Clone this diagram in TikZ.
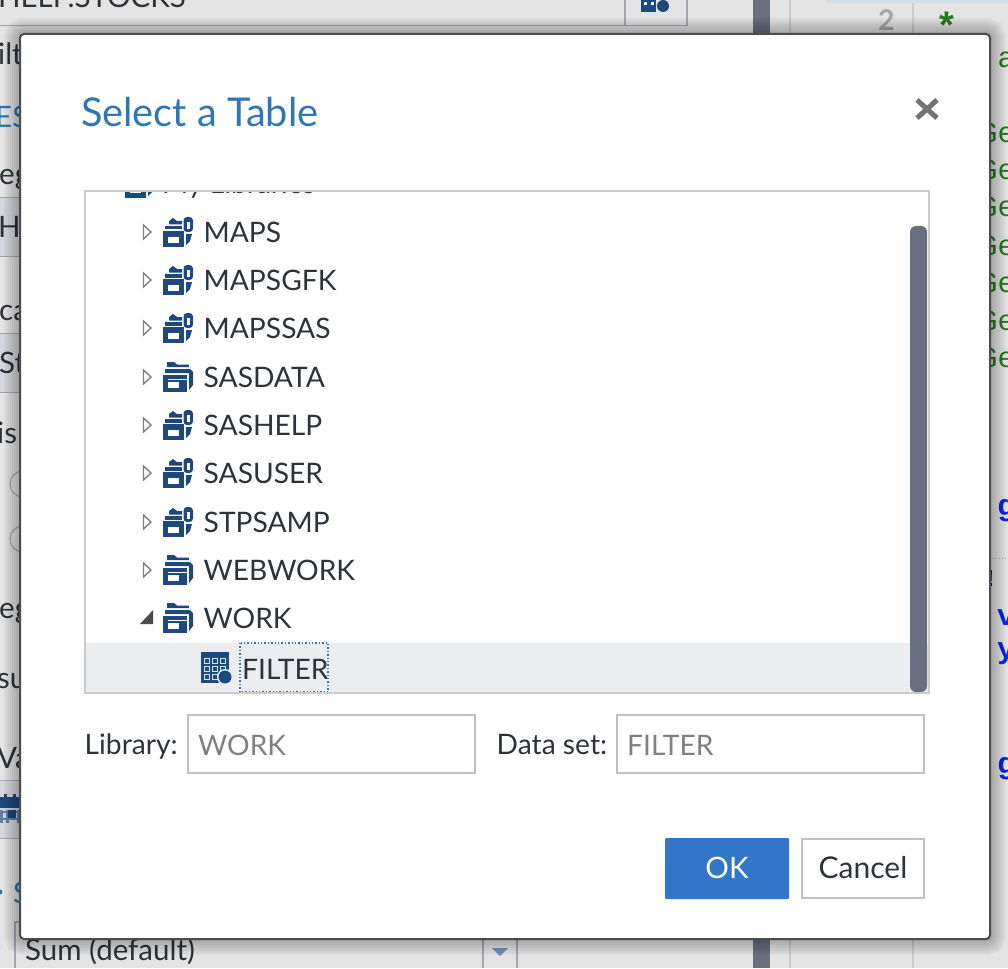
\documentclass[tikz,border=0pt]{standalone}
\usepackage{fontspec}
\setmainfont{Lato}
\newfontfamily\codefont{Liberation Mono}
\definecolor{pagegray}{HTML}{E4E4E4}
\definecolor{bandgray}{HTML}{D6D7DC}
\definecolor{linegray}{HTML}{A3A7B0}
\definecolor{framegray}{HTML}{CCCCCC}
\definecolor{fieldgray}{HTML}{BCC0CA}
\definecolor{inktext}{HTML}{2D333B}
\definecolor{titleblue}{HTML}{2F76B5}
\definecolor{iconblue}{HTML}{1D4A7C}
\definecolor{okblue}{HTML}{3176C8}
\definecolor{barslate}{HTML}{667080}
\definecolor{rowgray}{HTML}{ECEDF1}
\definecolor{codegreen}{HTML}{2A7A1E}
\definecolor{codeblue}{HTML}{0A28D8}
\definecolor{paleband}{HTML}{D5DFE8}
\definecolor{arrowblue}{HTML}{6F93BE}
\tikzset{
  txt/.style={inner sep=0pt,anchor=base west,text=inktext,font=\fontsize{28.2}{30}\selectfont},
  bgtxt/.style={txt,font=\fontsize{29.5}{30}\selectfont},
  greencode/.style={txt,text=codegreen,font=\fontsize{29}{30}\selectfont\codefont},
  bluecode/.style={txt,text=codeblue,font=\fontsize{30}{30}\selectfont\bfseries\codefont},
  field/.style={draw=fieldgray,line width=1.6pt,fill=white},
  plainicon/.pic={
    \fill[iconblue] (-11,-15)--(-4,-15)--(-1,-12.5)--(11,-12.5)--(11,-10)--(-11,-10)--cycle;
    \fill[iconblue] (-13,-8)--(12,-8)--(15,-5)--(15,8)--(11,13)--(11,-4)--(-13,-4)--cycle;
    \fill[iconblue] (-15,-2) rectangle (9,15);
    \fill[white] (-10,5) rectangle (1,10.5);
    \fill[white] (-10,1.5) rectangle (9,2.5);
  },
  lockicon/.pic={
    \fill[iconblue] (-9,-11)--(-5,-14)--(-1,-11)--(4,-11)--(4,-7.5)--(-9,-7.5)--cycle;
    \fill[iconblue] (-13,-6) rectangle (4,-2.5);
    \fill[iconblue] (-15,-1) rectangle (6,15);
    \fill[white] (-10,5) rectangle (1,10.5);
    \fill[iconblue,rounded corners=3.5pt] (5.5,-15) rectangle (15,0);
    \fill[white] (9,-10) rectangle (11.5,-3);
    \fill[iconblue] (8,2)--(14,2)--(12,9)--(8,13)--cycle;
  },
  tableicon/.pic={
    \fill[iconblue] (-14,-15) rectangle (14,16);
    \foreach \gx in {-11,-3,5} \foreach \gy in {-7,1,9}
      \draw[white!85!iconblue,line width=1pt] (\gx,\gy-2) rectangle ++(5,5);
    \fill[rowgray] (10,10) circle (8);
    \fill[iconblue] (10,10) circle (6.5);
  }
}
\begin{document}
\begin{tikzpicture}[x=1pt,y=-1pt]
\useasboundingbox (0,0) rectangle (1008,968);
\clip (0,0) rectangle (1008,968);
% what lies behind the dialog
\fill[pagegray] (0,0) rectangle (1008,968);
\fill[bandgray] (0,197) rectangle (20,256);
\fill[bandgray] (0,333) rectangle (20,392);
\fill[bandgray] (0,780) rectangle (20,838);
\foreach \by in {197,256,333,392,780,838}
  \draw[linegray,line width=0.8pt] (0,\by)--(20,\by);
\draw[linegray,line width=1.6pt] (0,25.5)--(687,25.5)--(687,0);
\draw[linegray,line width=1.6pt] (625,0)--(625,25);
\fill[iconblue] (641,0) rectangle (656,12);
\foreach \tx in {644,651} \fill[white] (\tx,2) rectangle ++(3,3);
\fill[iconblue] (663,6) circle (6);
\fill[barslate] (753,0) rectangle (770,34);
\fill[barslate] (753,930) rectangle (770,968);
\foreach \lx in {790,913} {
  \draw[framegray,line width=1.2pt] (\lx,0)--(\lx,34);
  \draw[framegray,line width=1.2pt] (\lx,930)--(\lx,968);
}
\fill[paleband] (826,0) rectangle (1008,3);
\node[bgtxt,anchor=base east] (topname) at (186,8) {SHELP.STOCKS};
\node[bgtxt] (hintA) at (-2,65) {ilt};
\node[bgtxt,text=titleblue] (hintB) at (-5,128) {ES};
\node[bgtxt] (hintC) at (-1,185) {eg};
\node[bgtxt] (hintD) at (-2,237) {Hi};
\node[bgtxt] (hintE) at (-1,320) {ca};
\node[bgtxt] (hintF) at (-1,373) {St};
\node[bgtxt] (hintG) at (-3,443) {is};
\node[bgtxt] (hintH) at (-1,618) {eg};
\node[bgtxt] (hintI) at (-3,688) {su};
\node[bgtxt] (hintJ) at (-3,768) {Va};
\draw[gray!60,line width=1.4pt] (23,484) circle (13);
\draw[gray!60,line width=1.4pt] (23,539) circle (13);
\fill[iconblue] (-3,797) rectangle (19,808);
\foreach \cx in {4,13} \fill[iconblue] (\cx,794) rectangle ++(3,4);
\foreach \cx in {0,6,17} \fill[iconblue!70] (\cx,810) rectangle ++(3,13);
\foreach \cy in {811,818} \fill[iconblue!70] (-3,\cy) rectangle (19,\cy+2);
\fill[iconblue] (8,810) rectangle (16,818);
\fill[titleblue] (0,892) circle (2.5);
\node[bgtxt,text=titleblue] (hintK) at (13,903) {S};
\draw[linegray,line width=1.2pt] (15,968)--(15,922)--(20,922);
\draw[linegray,line width=1.2pt] (483,930)--(483,968);
\draw[linegray,line width=1.2pt] (517,930)--(517,968);
\node[bgtxt] (sumbox) at (25,960) {Sum (default)};
\fill[arrowblue] (492,948)--(508,948)--(500,956)--cycle;
% code column on the right
\node[txt,text=gray!70,font=\fontsize{28.5}{30}\selectfont\bfseries] (linenum) at (878,31) {2};
\node[greencode,font=\fontsize{38}{40}\selectfont\bfseries\codefont] (star) at (935,40) {*};
\node[greencode] (codeA) at (980,68) {'a};
\foreach \cy in {143,180,217,255,292,330,367}
  \node[greencode] (code\cy) at (980,\cy) {Ge};
\draw[gray!70,dotted,line width=1pt] (990,558)--(1008,558);
\node[bluecode] (codeB) at (997,515) {g};
\node[bluecode,text=blue!40!black,font=\fontsize{24}{26}\selectfont\bfseries\codefont] (codeC) at (983,586) {!};
\node[bluecode] (codeD) at (997,625) {v};
\node[bluecode] (codeE) at (997,658) {y};
\node[bluecode] (codeF) at (997,773) {g};
% dialog shadow and frame
\foreach \sw in {4,8,...,32}
  \draw[black,opacity=0.035,line width=\sw pt,rounded corners=4pt] (20,34) rectangle (990,939);
\draw[draw=black!70,line width=2pt,fill=white,rounded corners=4pt] (20,34) rectangle (990,939);
\node[txt,text=titleblue,font=\fontsize{39.7}{42}\selectfont] (dlgtitle) at (81,127) {Select a Table};
\draw[black!55,line width=5pt] (917,100)--(937,118);
\draw[black!55,line width=5pt] (937,100)--(917,118);
% tree of libraries
\fill[rowgray] (86,643) rectangle (928,692);
\begin{scope}
  \clip (85,191) rectangle (929,693);
  \node[txt] (rowtop) at (162,194) {My Libraries};
  \path (140,183) pic {lockicon};
\end{scope}
\foreach \nm/\yc/\ic in {MAPS/232/lockicon,MAPSGFK/280/lockicon,MAPSSAS/328/lockicon,SASDATA/377/plainicon,SASHELP/425/lockicon,SASUSER/473/lockicon,STPSAMP/522/lockicon,WEBWORK/570/plainicon} {
  \draw[gray,line width=1.4pt] (143.5,\yc-7)--(151,\yc)--(143.5,\yc+7)--cycle;
  \path (178,\yc) pic {\ic};
  \node[txt] (row\nm) at (203.5,\yc+10) {\nm};
}
\fill[black!70] (153,610)--(153,624)--(140,624)--cycle;
\path (178,618) pic {plainicon};
\node[txt] (rowWORK) at (203.5,628) {WORK};
\path (215,667) pic {tableicon};
\node[txt] (rowFILTER) at (242,679) {FILTER};
\draw[titleblue,line width=1.4pt,dotted] (240,643) rectangle (328,692);
\draw[framegray,line width=2pt] (85,191) rectangle (929,693);
\fill[barslate,rounded corners=6pt] (910,226) rectangle (927,692);
% fields and buttons
\node[txt] (liblabel) at (84.5,754) {Library:};
\draw[field] (188,715) rectangle (475,773);
\node[txt,text=gray] (libvalue) at (198,755) {WORK};
\node[txt] (setlabel) at (496.5,754) {Data set:};
\draw[field] (617,715) rectangle (924,773);
\node[txt,text=gray] (setvalue) at (627,755) {FILTER};
\fill[okblue,rounded corners=1pt] (665,838) rectangle (789,899);
\node[txt,anchor=center,text=white,font=\fontsize{29.5}{30}\selectfont] (okbtn) at (727,868) {OK};
\draw[field] (802,839) rectangle (924,898);
\node[txt,anchor=center,font=\fontsize{30}{30}\selectfont] (cancelbtn) at (863,868) {Cancel};
\end{tikzpicture}
\end{document}
